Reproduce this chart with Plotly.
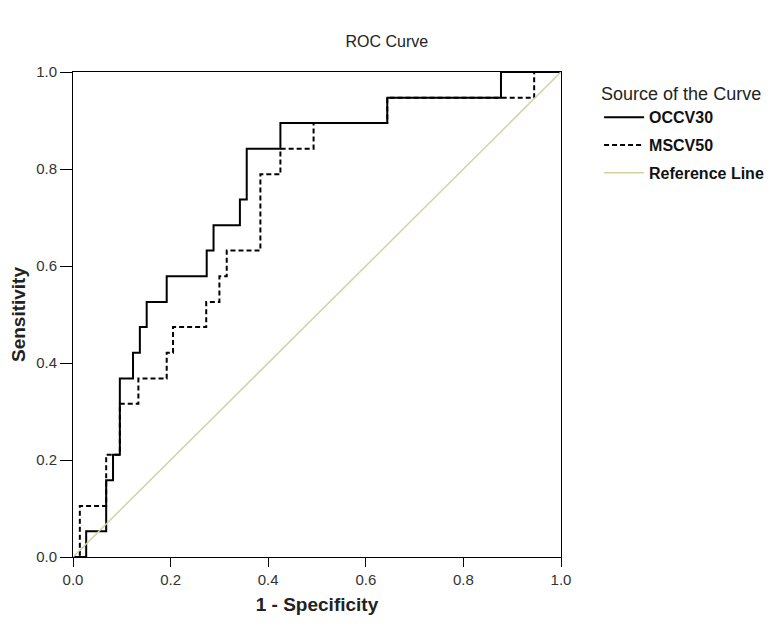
import plotly.graph_objects as go

# ROC step-curve vertices (1 - specificity, sensitivity)
occv30_fpr = [0.0, 0.027, 0.068, 0.082, 0.096, 0.123, 0.137, 0.151, 0.192, 0.274, 0.288, 0.342, 0.356, 0.425, 0.644, 0.877, 1.0]
occv30_tpr = [0.0, 0.053, 0.158, 0.211, 0.368, 0.421, 0.474, 0.526, 0.579, 0.632, 0.684, 0.737, 0.842, 0.895, 0.947, 1.0, 1.0]

mscv50_fpr = [0.0, 0.014, 0.068, 0.096, 0.134, 0.192, 0.205, 0.273, 0.300, 0.315, 0.384, 0.425, 0.493, 0.644, 0.945, 1.0]
mscv50_tpr = [0.0, 0.105, 0.211, 0.316, 0.368, 0.421, 0.474, 0.526, 0.579, 0.632, 0.789, 0.842, 0.895, 0.947, 1.0, 1.0]

ref_x = [0.0, 1.0]
ref_y = [0.0, 1.0]

tick_vals = [0.0, 0.2, 0.4, 0.6, 0.8, 1.0]
tick_text = ["0.0", "0.2", "0.4", "0.6", "0.8", "1.0"]

FONT = "Arial, Liberation Sans, sans-serif"

fig = go.Figure()
fig.add_trace(go.Scatter(x=occv30_fpr, y=occv30_tpr, mode="lines", line_shape="hv", legendgroup="a",
                         line=dict(color="black", width=2), name="<b>OCCV30</b>"))
fig.add_trace(go.Scatter(x=mscv50_fpr, y=mscv50_tpr, mode="lines", line_shape="hv", legendgroup="b",
                         line=dict(color="black", width=2, dash="5px,3px"), name="<b>MSCV50</b>"))
fig.add_trace(go.Scatter(x=ref_x, y=ref_y, mode="lines", legendgroup="c",
                         line=dict(color="#d3d3a2", width=1.5), name="<b>Reference Line</b>"))

fig.update_layout(
    width=773, height=625,
    margin=dict(l=65, r=220, t=64, b=76, autoexpand=False),
    paper_bgcolor="white", plot_bgcolor="white",
    font=dict(family=FONT, color="#222222", size=15),
    title=dict(text="ROC Curve", x=0.49, xanchor="center", y=0.946, yanchor="middle",
               font=dict(family=FONT, size=16, color="#222222")),
    showlegend=True,
    legend=dict(x=1.078, xanchor="left", y=0.99, yanchor="top",
                traceorder="grouped", tracegroupgap=4,
                title=dict(text="Source of the Curve", font=dict(size=18, family=FONT, color="#222222")),
                font=dict(size=16, family=FONT, color="#111111"),
                itemwidth=40, bgcolor="rgba(0,0,0,0)"),
)
fig.update_xaxes(range=[0, 1], tickvals=tick_vals, ticktext=tick_text, automargin=True,
                 showgrid=False, zeroline=False,
                 showline=True, linecolor="black", linewidth=1, mirror=True,
                 ticks="outside", ticklen=9, tickcolor="black",
                 tickfont=dict(size=15, family=FONT, color="#333333"),
                 title=dict(text="<b>1 - Specificity</b>", font=dict(size=19, family=FONT, color="#222222"), standoff=10))
fig.update_yaxes(range=[0, 1], tickvals=tick_vals, ticktext=tick_text, automargin=True,
                 showgrid=False, zeroline=False,
                 showline=True, linecolor="black", linewidth=1, mirror=True,
                 ticks="outside", ticklen=12, tickcolor="black",
                 tickfont=dict(size=15, family=FONT, color="#333333"),
                 title=dict(text="<b>Sensitivity</b>", font=dict(size=19, family=FONT, color="#222222"), standoff=13))

fig.write_html("out.html")
